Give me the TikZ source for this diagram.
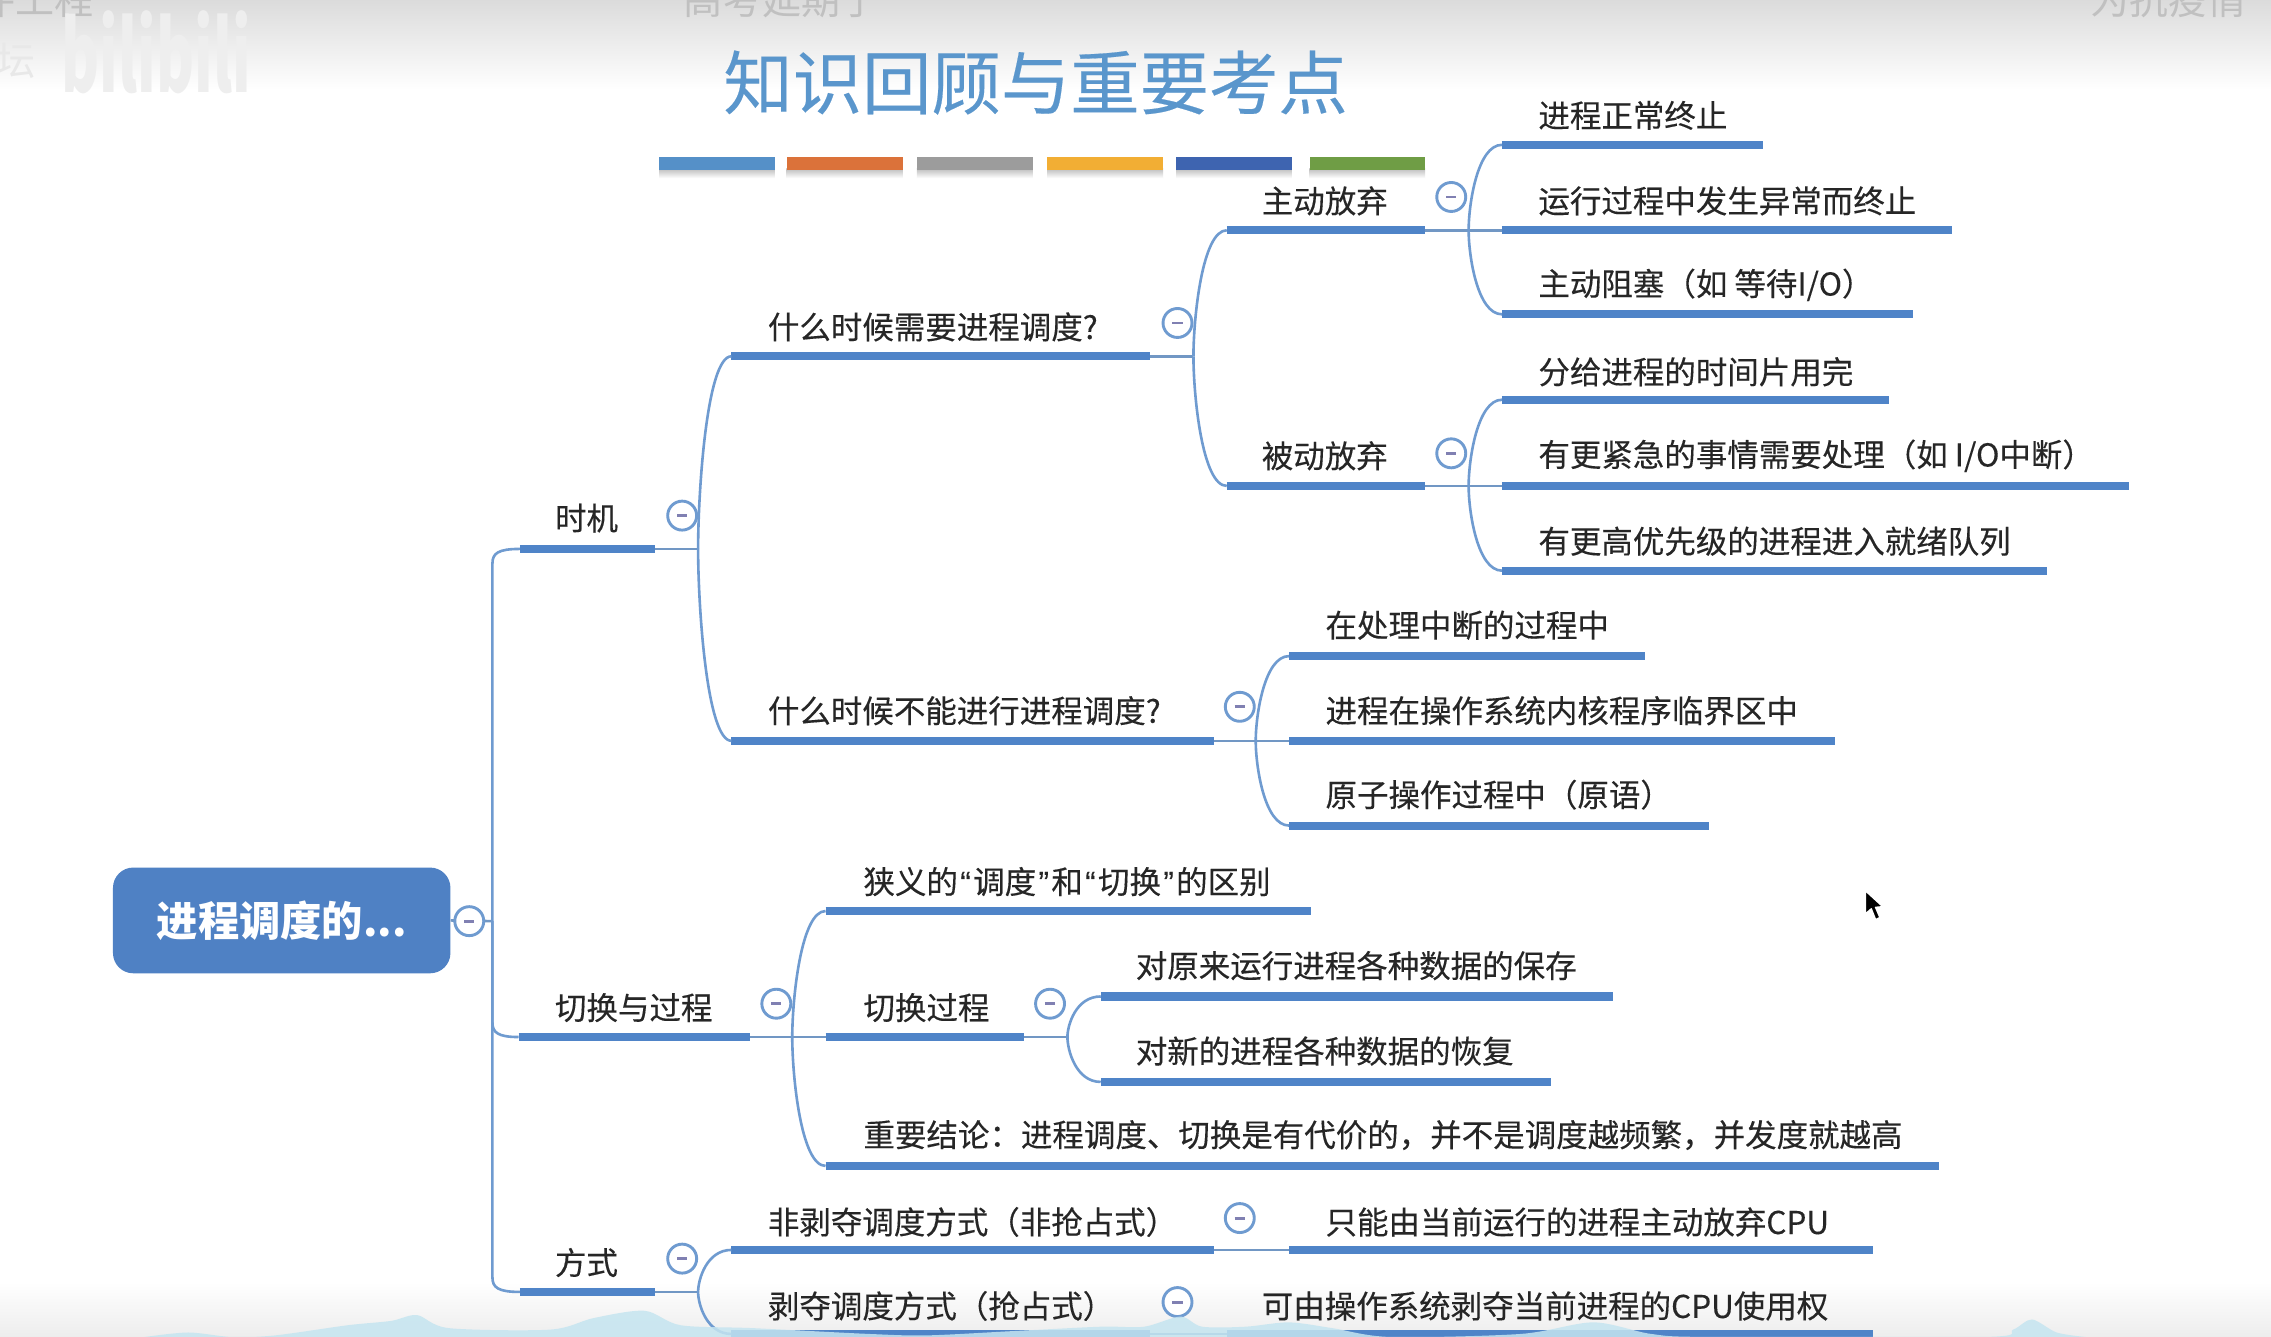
\documentclass[tikz,border=0pt]{standalone}
\usepackage{fontspec}
\usepackage{graphicx}
\setmainfont{Noto Sans CJK SC}
\newfontfamily\lblfont[FakeBold=0.25]{Noto Sans CJK SC}
\newfontfamily\quotefont[FakeBold=0.25]{Liberation Sans}
\newcommand{\qo}{\makebox[10.5pt][c]{\quotefont “}}
\newcommand{\qc}{\makebox[10.5pt][c]{\quotefont ”}}
\usetikzlibrary{calc}
\definecolor{barblue}{HTML}{4F84C8}
\definecolor{linkblue}{HTML}{6F9BD0}
\definecolor{titleblue}{HTML}{5A96CC}
\definecolor{rootblue}{HTML}{4F81C4}
\definecolor{textdark}{HTML}{262626}
\definecolor{ghost}{HTML}{C0C0C0}
\definecolor{hill}{HTML}{C5E5F0}
\definecolor{cbA}{HTML}{5590C8}
\definecolor{cbB}{HTML}{DB723A}
\definecolor{cbC}{HTML}{9C9C9C}
\definecolor{cbD}{HTML}{F2AE34}
\definecolor{cbE}{HTML}{3E64B0}
\definecolor{cbF}{HTML}{6F9D45}
\tikzset{
  x=1pt,y=-1pt,
  lbl/.style={anchor=west,inner sep=0pt,text=textdark,font=\lblfont\fontsize{21.74}{24}\selectfont,yshift=-0.7pt},
  barline/.style={line width=5.6pt,barblue,line cap=butt},
  link/.style={line width=1.8pt,linkblue},
  stub/.style={line width=1.8pt,linkblue!85!gray},
  tog/.style={circle,draw=linkblue,line width=2pt,fill=white,minimum size=20pt,inner sep=0pt,
    path picture={\draw[gray!75!blue!80,line width=2pt]
      ($(path picture bounding box.center)+(-3.5,0)$) -- ($(path picture bounding box.center)+(3.5,0)$);}},
  colorbar/.style={minimum width=80pt,minimum height=9pt,inner sep=0pt,anchor=north west},
  cbshadow/.style={top color=gray!55,bottom color=white,draw=none},
  danmu/.style={inner sep=0pt,text=ghost,font=\fontsize{27}{30}\selectfont},
}
\newcommand{\tbar}[4]{\coordinate (#1) at (#2,#4);\coordinate (#1r) at (#3,#4);\draw[barline] (#1) -- (#1r);}
\newcommand{\flare}[2]{\draw[link] (#1) .. controls ($(#1)!0.3!(#1|-#2)$) and ($(#1|-#2)+(6,0)$) .. (#2);}
\begin{document}
\begin{tikzpicture}
\clip (0,0) rectangle (1568,923.1);
\fill[white] (0,0) rectangle (1568,923.1);
\fill[top color=gray!28,bottom color=white,draw=none] (0,0) rectangle (1568,62);
\fill[top color=white,bottom color=gray!14,draw=none] (0,885) rectangle (1568,923.1);

% overlaid comments and watermark
\node[danmu,anchor=east] (dm1) at (65,0) {软件工程};
\node[danmu,anchor=west] (dm2) at (472,0) {高考延期了};
\node[danmu,anchor=west] (dm3) at (1443,0) {为抗疫情气};
\node[danmu,anchor=east,text=gray!18] (dm4) at (25,42) {坛};
\node[anchor=center,inner sep=0pt,text=gray!13,font=\fontsize{40}{44}\selectfont\bfseries] (wm) at (108,36) {\scalebox{1}[1.7]{bilibili}};

% title
\node[inner sep=0pt,text=titleblue,font=\lblfont\fontsize{47.9}{52}\selectfont] (title) at (715,57) {知识回顾与重要考点};
\foreach \xs in {455,543,633,723,812,904}{
  \shade[cbshadow] (\xs,116) rectangle ({\xs+80},123);
}
\node[colorbar,fill=cbA] (cb1) at (455,108) {};
\node[colorbar,fill=cbB] (cb2) at (543,108) {};
\node[colorbar,fill=cbC] (cb3) at (633,108) {};
\node[colorbar,fill=cbD] (cb4) at (723,108) {};
\node[colorbar,fill=cbE] (cb5) at (812,108) {};
\node[colorbar,fill=cbF] (cb6) at (904,108) {};

% bars
\tbar{A}{359}{452}{379}
\tbar{B}{358}{518}{716}
\tbar{C}{359}{452}{892}
\tbar{A1}{505}{794}{246}
\tbar{A2}{505}{838}{511.5}
\tbar{A11}{847}{984}{159}
\tbar{A12}{847}{984}{335.5}
\tbar{P1}{1037}{1217}{100}
\tbar{P2}{1037}{1348}{159}
\tbar{P3}{1037}{1321}{217}
\tbar{Q1}{1037}{1304}{276}
\tbar{Q2}{1037}{1470}{335.5}
\tbar{Q3}{1037}{1413}{394}
\tbar{R1}{890}{1136}{453}
\tbar{R2}{890}{1267}{511.5}
\tbar{R3}{890}{1180}{570}
\tbar{B1}{570}{905}{629}
\tbar{B2}{570}{707}{716}
\tbar{B3}{570}{1339}{805}
\tbar{S1}{760}{1114}{688}
\tbar{S2}{760}{1071}{747}
\tbar{C1}{505}{838}{863}
\tbar{C1a}{890}{1293}{863}
\tbar{C2}{505}{794}{921}
\tbar{C2a}{847}{1293}{921}

% root
\node[fill=rootblue,rounded corners=14pt,minimum width=233pt,minimum height=73pt,inner sep=0pt,
  text=white,font=\fontsize{28.5}{30}\selectfont\bfseries] (root) at (194.5,635.5) {\raisebox{-1pt}{进程调度的...}};
\coordinate (trunk) at (340,636);
\draw[stub] (root.east) -- (trunk);
\draw[link] (trunk) -- (340,389) .. controls (340,382) and (344,379) .. (A);
\draw[link] (trunk) -- (340,706) .. controls (340,713) and (344,716) .. (B);
\draw[link] (trunk) -- (340,882) .. controls (340,889) and (344,892) .. (C);

% junctions
\coordinate (jA) at (482,379);
\coordinate (jA1) at (824,246);
\coordinate (jA11) at (1014,159);
\coordinate (jA12) at (1014,335.5);
\coordinate (jA2) at (867,511.5);
\coordinate (jB) at (547,716);
\coordinate (jB2) at (737,716);
\coordinate (jC) at (482,892);

\draw[stub] (Ar) -- (jA); \flare{jA}{A1} \flare{jA}{A2}
\draw[stub] (A1r) -- (jA1); \flare{jA1}{A11} \flare{jA1}{A12}
\draw[stub] (A11r) -- (P2); \flare{jA11}{P1} \flare{jA11}{P3}
\draw[stub] (A12r) -- (Q2); \flare{jA12}{Q1} \flare{jA12}{Q3}
\draw[stub] (A2r) -- (R2); \flare{jA2}{R1} \flare{jA2}{R3}
\draw[stub] (Br) -- (B2); \flare{jB}{B1} \flare{jB}{B3}
\draw[stub] (B2r) -- (jB2); \flare{jB2}{S1} \flare{jB2}{S2}
\draw[stub] (Cr) -- (jC); \flare{jC}{C1} \flare{jC}{C2}
\draw[stub] (C1r) -- (C1a);
\draw[stub] (C2r) -- (C2a);

% toggles
\node[tog] (t0) at (324,636) {};
\node[tog] (t1) at (471,356) {};
\node[tog] (t2) at (536,693) {};
\node[tog] (t3) at (471,869) {};
\node[tog] (t4) at (813,223) {};
\node[tog] (t5) at (856,488) {};
\node[tog] (t6) at (1002,136) {};
\node[tog] (t7) at (1002,313) {};
\node[tog] (t8) at (725,693) {};
\node[tog] (t9) at (856,841) {};
\node[tog] (t10) at (813,899) {};

% labels
\node[lbl] (lA) at (383,357) {时机};
\node[lbl] (lB) at (383,695) {切换与过程};
\node[lbl] (lC) at (383,871) {方式};
\node[lbl] (lA1) at (530,225) {什么时候需要进程调度?};
\node[lbl] (lA2) at (530,490) {什么时候不能进行进程调度?};
\node[lbl] (lA11) at (871,138) {主动放弃};
\node[lbl] (lA12) at (871,314) {被动放弃};
\node[lbl] (lP1) at (1062,79) {进程正常终止};
\node[lbl] (lP2) at (1062,138) {运行过程中发生异常而终止};
\node[lbl] (lP3) at (1062,196) {主动阻塞（如 等待I/O）};
\node[lbl] (lQ1) at (1062,256) {分给进程的时间片用完};
\node[lbl] (lQ2) at (1062,314) {有更紧急的事情需要处理（如 I/O中断）};
\node[lbl] (lQ3) at (1062,373) {有更高优先级的进程进入就绪队列};
\node[lbl] (lR1) at (915,431) {在处理中断的过程中};
\node[lbl] (lR2) at (915,490) {进程在操作系统内核程序临界区中};
\node[lbl] (lR3) at (915,548) {原子操作过程中（原语）};
\node[lbl] (lB1) at (596,608) {狭义的\qo 调度\qc 和\qo 切换\qc 的区别};
\node[lbl] (lB2) at (596,695) {切换过程};
\node[lbl] (lB3) at (596,783) {重要结论：进程调度、切换是有代价的，并不是调度越频繁，并发度就越高};
\node[lbl] (lS1) at (784,666) {对原来运行进程各种数据的保存};
\node[lbl] (lS2) at (784,725) {对新的进程各种数据的恢复};
\node[lbl] (lC1) at (530,843) {非剥夺调度方式（非抢占式）};
\node[lbl] (lC1a) at (915,843) {只能由当前运行的进程主动放弃CPU};
\node[lbl] (lC2) at (530,901) {剥夺调度方式（抢占式）};
\node[lbl] (lC2a) at (871,901) {可由操作系统剥夺当前进程的CPU使用权};

% bottom hills
\fill[hill,opacity=.85] plot[smooth,tension=.5] coordinates {(100,923.1)(130,920)(160,923.1)(190,922)(240,915)(270,912)(288,908)(310,917)(380,918)(410,910)(445,905)(470,915)(520,917)(600,921)(640,922)(700,919)(760,916)(790,916)(815,909)(830,916)(860,916)(890,913)(920,917)(960,923.1)(1050,921)(1100,913)(1140,921)(1180,923.1)(1370,923.1)(1390,918)(1403,911)(1420,920)(1440,923.1)} -- cycle;

% mouse pointer
\draw[white,line width=1pt,fill=black,line join=round] (1288,615) -- (1288,631) -- (1292,627.5) -- (1295,635) -- (1298,633.5) -- (1295,626.5) -- (1300,626) -- cycle;
\end{tikzpicture}
\end{document}
